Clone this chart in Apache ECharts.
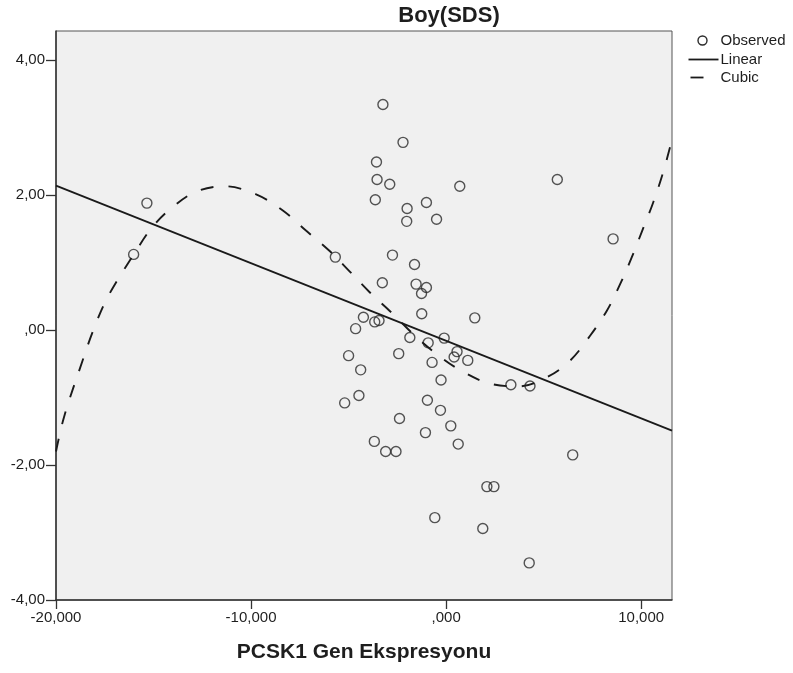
<!DOCTYPE html>
<html>
<head>
<meta charset="utf-8">
<script src="https://cdn.jsdelivr.net/npm/echarts@6/dist/echarts.min.js"></script>
<style>
  html, body { margin: 0; padding: 0; background: #ffffff; }
  #chart { width: 793px; height: 673px; }
</style>
</head>
<body>
<div id="chart"></div>
<script>
// Observed cases: PCSK1 gene expression vs height SDS
const obsX = [-15.34, -16.02, -5.68, -3.24, -2.21, -3.57, -3.54, -2.89, 0.70, -3.63,
              -1.01, -2.00, -2.02, -0.49, 5.70, 8.56, -2.75, -1.62, -3.27, -1.54,
              -1.01, -1.26, -1.25, 1.47, -4.24, -3.66, -3.44, -4.64, -1.86, -0.10,
              -0.92, 0.56, 0.41, 1.11, -5.00, -2.43, -0.72, -4.38, -0.26, -4.47,
              -5.20, -0.96, -0.29, -2.39, 0.24, -1.06, 0.62, -3.68, -3.10, -2.57,
              2.09, 2.45, -0.58, 1.88, 6.49, 4.26, 3.32, 4.30];
const obsY = [1.88, 1.12, 1.08, 3.34, 2.78, 2.49, 2.23, 2.16, 2.13, 1.93,
              1.89, 1.80, 1.61, 1.64, 2.23, 1.35, 1.11, 0.97, 0.70, 0.68,
              0.63, 0.54, 0.24, 0.18, 0.19, 0.12, 0.14, 0.02, -0.11, -0.12,
              -0.19, -0.32, -0.40, -0.45, -0.38, -0.35, -0.48, -0.59, -0.74, -0.97,
              -1.08, -1.04, -1.19, -1.31, -1.42, -1.52, -1.69, -1.65, -1.80, -1.80,
              -2.32, -2.32, -2.78, -2.94, -1.85, -3.45, -0.81, -0.83];

// Linear fit, end points across the x range
const linearX = [-20, 11.58];
const linearY = [2.14, -1.49];

// Cubic fit, points along the curve
const cubicX = [-20, -19.58, -18.64, -18.13, -17.53, -16.93, -15.99, -15.13, -14.15, -12.82,
                -11.37, -9.74, -8.37, -7.17, -5.97, -4.95, -3.92, -2.72, -1.64, -0.49,
                0.75, 2.2, 3.7, 5.16, 6.35, 7.38, 8.24, 8.92, 9.52, 10.12,
                10.63, 11.15, 11.58];
const cubicY = [-1.80, -1.28, -0.455, -0.035, 0.385, 0.70, 1.13, 1.50, 1.79, 2.05,
                2.13, 2.01, 1.77, 1.47, 1.17, 0.87, 0.56, 0.237, -0.074, -0.356,
                -0.60, -0.79, -0.835, -0.70, -0.455, -0.085, 0.286, 0.68, 1.08, 1.52,
                1.90, 2.36, 2.82];

const xTicks = [-20, -10, 0, 10];
const xTickLabels = ['-20,000', '-10,000', ',000', '10,000'];
const yTicks = [-4, -2, 0, 2, 4];
const yTickLabels = ['-4,00', '-2,00', ',00', '2,00', '4,00'];

const zip = (xs, ys) => xs.map((x, i) => [x, ys[i]]);
const labelFor = (ticks, labels) => v => {
  const i = ticks.findIndex(t => Math.abs(t - v) < 1e-9);
  return i >= 0 ? labels[i] : '';
};

const FONT = '"Liberation Sans", Arial, sans-serif';
const INK = '#1e1e1e';

const chart = echarts.init(document.getElementById('chart'), null, { renderer: 'canvas' });

chart.setOption({
  animation: false,
  backgroundColor: '#ffffff',
  title: {
    text: 'Boy(SDS)',
    left: 444,
    top: 0,
    textAlign: 'center',
    textStyle: { fontFamily: FONT, fontSize: 22, fontWeight: 'bold', color: INK }
  },
  grid: {
    left: 56, right: 121, top: 31, bottom: 73,
    show: true,
    backgroundColor: '#f0f0f0',
    borderColor: '#555555',
    borderWidth: 1
  },
  xAxis: {
    type: 'value',
    min: -20, max: 11.58,
    interval: 10,
    name: 'PCSK1 Gen Ekspresyonu',
    nameLocation: 'middle',
    nameGap: 42,
    nameTextStyle: { fontFamily: FONT, fontSize: 21, fontWeight: 'bold', color: INK },
    axisLine: { onZero: false, lineStyle: { color: '#333333', width: 1.5 } },
    axisTick: { show: true, length: 9, customValues: xTicks, lineStyle: { color: '#333333', width: 1.3 } },
    axisLabel: {
      customValues: xTicks,
      margin: 10,
      formatter: labelFor(xTicks, xTickLabels),
      fontFamily: FONT, fontSize: 15, color: INK
    },
    splitLine: { show: false }
  },
  yAxis: {
    type: 'value',
    min: -4, max: 4.43,
    interval: 2,
    axisLine: { onZero: false, lineStyle: { color: '#333333', width: 1.5 } },
    axisTick: { show: true, length: 10, customValues: yTicks, lineStyle: { color: '#333333', width: 1.3 } },
    axisLabel: {
      customValues: yTicks,
      margin: 11,
      formatter: labelFor(yTicks, yTickLabels),
      fontFamily: FONT, fontSize: 15, color: INK
    },
    splitLine: { show: false }
  },
  series: [
    {
      name: 'Observed',
      type: 'scatter',
      data: zip(obsX, obsY),
      symbol: 'circle',
      symbolSize: 10,
      itemStyle: { color: 'rgba(0,0,0,0)', borderColor: '#2a2a2a', borderWidth: 1.4 },
      z: 3
    },
    {
      name: 'Linear',
      type: 'line',
      data: zip(linearX, linearY),
      showSymbol: false,
      symbol: 'none',
      lineStyle: { color: '#1a1a1a', width: 1.8, type: 'solid' },
      z: 4
    },
    {
      name: 'Cubic',
      type: 'line',
      data: zip(cubicX, cubicY),
      showSymbol: false,
      symbol: 'none',
      smooth: 0.35,
      lineStyle: { color: '#1a1a1a', width: 1.9, type: [13, 15] },
      z: 4
    }
  ],
  graphic: [
    {
      type: 'group',
      left: 686,
      top: 33,
      children: [
        { type: 'circle', shape: { cx: 16, cy: 9, r: 4.5 },
          style: { fill: 'none', stroke: '#2a2a2a', lineWidth: 1.4 } },
        { type: 'text', x: 34, y: 9,
          style: { text: 'Observed', font: '15px ' + FONT, fill: INK, verticalAlign: 'middle' } },
        { type: 'line', shape: { x1: 2, y1: 28, x2: 32, y2: 28 },
          style: { stroke: '#1a1a1a', lineWidth: 1.8 } },
        { type: 'text', x: 34, y: 28,
          style: { text: 'Linear', font: '15px ' + FONT, fill: INK, verticalAlign: 'middle' } },
        { type: 'line', shape: { x1: 4, y1: 46, x2: 17, y2: 46 },
          style: { stroke: '#1a1a1a', lineWidth: 1.8 } },
        { type: 'text', x: 34, y: 46,
          style: { text: 'Cubic', font: '15px ' + FONT, fill: INK, verticalAlign: 'middle' } }
      ]
    }
  ]
});
</script>
</body>
</html>
